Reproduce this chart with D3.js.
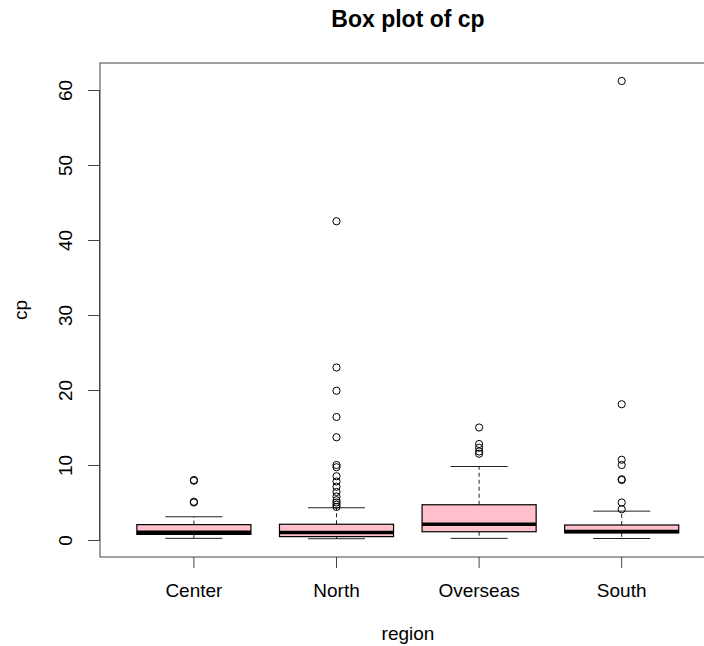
<!DOCTYPE html>
<html>
<head>
<meta charset="utf-8">
<script src="https://cdn.jsdelivr.net/npm/d3@7"></script>
<style>
  body { margin: 0; background: #fff; }
  text { font-family: "Liberation Sans", Arial, sans-serif; fill: #000; }
</style>
</head>
<body>
<div id="chart"></div>
<script>
// data
const regions   = ["Center", "North", "Overseas", "South"];
const whiskLow  = [0.22, 0.17, 0.22, 0.2];
const q1        = [0.75, 0.45, 1.1, 0.95];
const medians   = [1.05, 1.0, 2.1, 1.15];
const q3        = [2.05, 2.1, 4.7, 2.0];
const whiskHigh = [3.1, 4.3, 9.8, 3.85];
const outliers  = [
    [5.0, 5.1, 7.9, 8.0],
    [4.4, 4.7, 5.0, 5.3, 5.8, 6.4, 7.1, 7.8, 8.5, 9.7, 10.0, 13.7, 16.4, 19.9, 23.0, 42.5],
    [11.5, 11.8, 12.3, 12.8, 15.0],
    [4.1, 5.0, 8.0, 8.1, 10.0, 10.7, 18.1, 61.2]
];
const yTicks = [0, 10, 20, 30, 40, 50, 60];

const width = 704, height = 646;
const frame = {left: 100, right: 716, top: 63, bottom: 557};

const svg = d3.select("#chart").append("svg")
    .attr("width", width)
    .attr("height", height);

const x = d3.scaleBand()
    .domain(regions)
    .range([122.6, 693])
    .padding(0);

const y = d3.scaleLinear()
    .domain([0, 60])
    .range([540, 90]);

const boxW = x.bandwidth() * 0.8;
const cx = d => x(d) + x.bandwidth() / 2;

const rows = regions.map((r, i) => ({
    region: r, lo: whiskLow[i], q1: q1[i], med: medians[i], q3: q3[i], hi: whiskHigh[i], out: outliers[i]
}));

// boxes
const g = svg.selectAll(".box")
    .data(rows)
    .enter().append("g")
    .attr("class", "box");

// dashed whiskers
g.append("line")
    .attr("x1", d => cx(d.region)).attr("x2", d => cx(d.region))
    .attr("y1", d => y(d.q3)).attr("y2", d => y(d.hi))
    .attr("stroke", "#222").attr("stroke-dasharray", "4,3");
g.append("line")
    .attr("x1", d => cx(d.region)).attr("x2", d => cx(d.region))
    .attr("y1", d => y(d.q1)).attr("y2", d => y(d.lo))
    .attr("stroke", "#222").attr("stroke-dasharray", "4,3");

// staples
["lo", "hi"].forEach(k => {
    g.append("line")
        .attr("x1", d => cx(d.region) - boxW / 4)
        .attr("x2", d => cx(d.region) + boxW / 4)
        .attr("y1", d => y(d[k])).attr("y2", d => y(d[k]))
        .attr("stroke", "#222");
});

g.append("rect")
    .attr("x", d => cx(d.region) - boxW / 2)
    .attr("width", boxW)
    .attr("y", d => y(d.q3))
    .attr("height", d => y(d.q1) - y(d.q3))
    .attr("fill", "pink")
    .attr("stroke", "#000")
    .attr("stroke-width", 1.2);

g.append("line")
    .attr("x1", d => cx(d.region) - boxW / 2)
    .attr("x2", d => cx(d.region) + boxW / 2)
    .attr("y1", d => y(d.med)).attr("y2", d => y(d.med))
    .attr("stroke", "#000")
    .attr("stroke-width", 3.5);

g.selectAll(".out")
    .data(d => d.out.map(v => ({region: d.region, v: v})))
    .enter().append("circle")
    .attr("class", "out")
    .attr("cx", d => cx(d.region))
    .attr("cy", d => y(d.v))
    .attr("r", 3.6)
    .attr("fill", "none")
    .attr("stroke", "#000")
    .attr("stroke-width", 1);

// frame
svg.append("rect")
    .attr("x", frame.left).attr("y", frame.top)
    .attr("width", frame.right - frame.left)
    .attr("height", frame.bottom - frame.top)
    .attr("fill", "none")
    .attr("stroke", "#444");

// y axis
const yAxis = svg.append("g")
    .attr("transform", `translate(${frame.left},0)`)
    .call(d3.axisLeft(y).tickValues(yTicks).tickSize(12).tickSizeOuter(0));
yAxis.select(".domain")
    .attr("d", `M-0.5,${y(0)}V${y(60)}`)
    .attr("stroke", "#444");
yAxis.selectAll(".tick line").attr("stroke", "#444");
yAxis.selectAll(".tick text")
    .attr("transform", "rotate(-90)")
    .attr("x", 0)
    .attr("y", -28)
    .attr("dy", 0)
    .attr("text-anchor", "middle")
    .style("font-family", "Liberation Sans, Arial, sans-serif")
    .style("font-size", "19px");

// x axis
const xAxis = svg.append("g")
    .attr("transform", `translate(0,${frame.bottom})`)
    .call(d3.axisBottom(x).tickSize(11).tickSizeOuter(0));
xAxis.select(".domain").remove();
xAxis.selectAll(".tick line").attr("stroke", "#444");
xAxis.selectAll(".tick text")
    .attr("y", 40)
    .attr("dy", 0)
    .style("font-family", "Liberation Sans, Arial, sans-serif")
    .style("font-size", "19px");

// titles
const midX = (frame.left + frame.right) / 2;
svg.append("text")
    .attr("x", midX).attr("y", 27)
    .attr("text-anchor", "middle")
    .style("font-size", "23px")
    .style("font-weight", "bold")
    .text("Box plot of cp");

svg.append("text")
    .attr("x", midX).attr("y", 640)
    .attr("text-anchor", "middle")
    .style("font-size", "19px")
    .text("region");

svg.append("text")
    .attr("transform", `translate(27,${(frame.top + frame.bottom) / 2}) rotate(-90)`)
    .attr("text-anchor", "middle")
    .style("font-size", "19px")
    .text("cp");
</script>
</body>
</html>
